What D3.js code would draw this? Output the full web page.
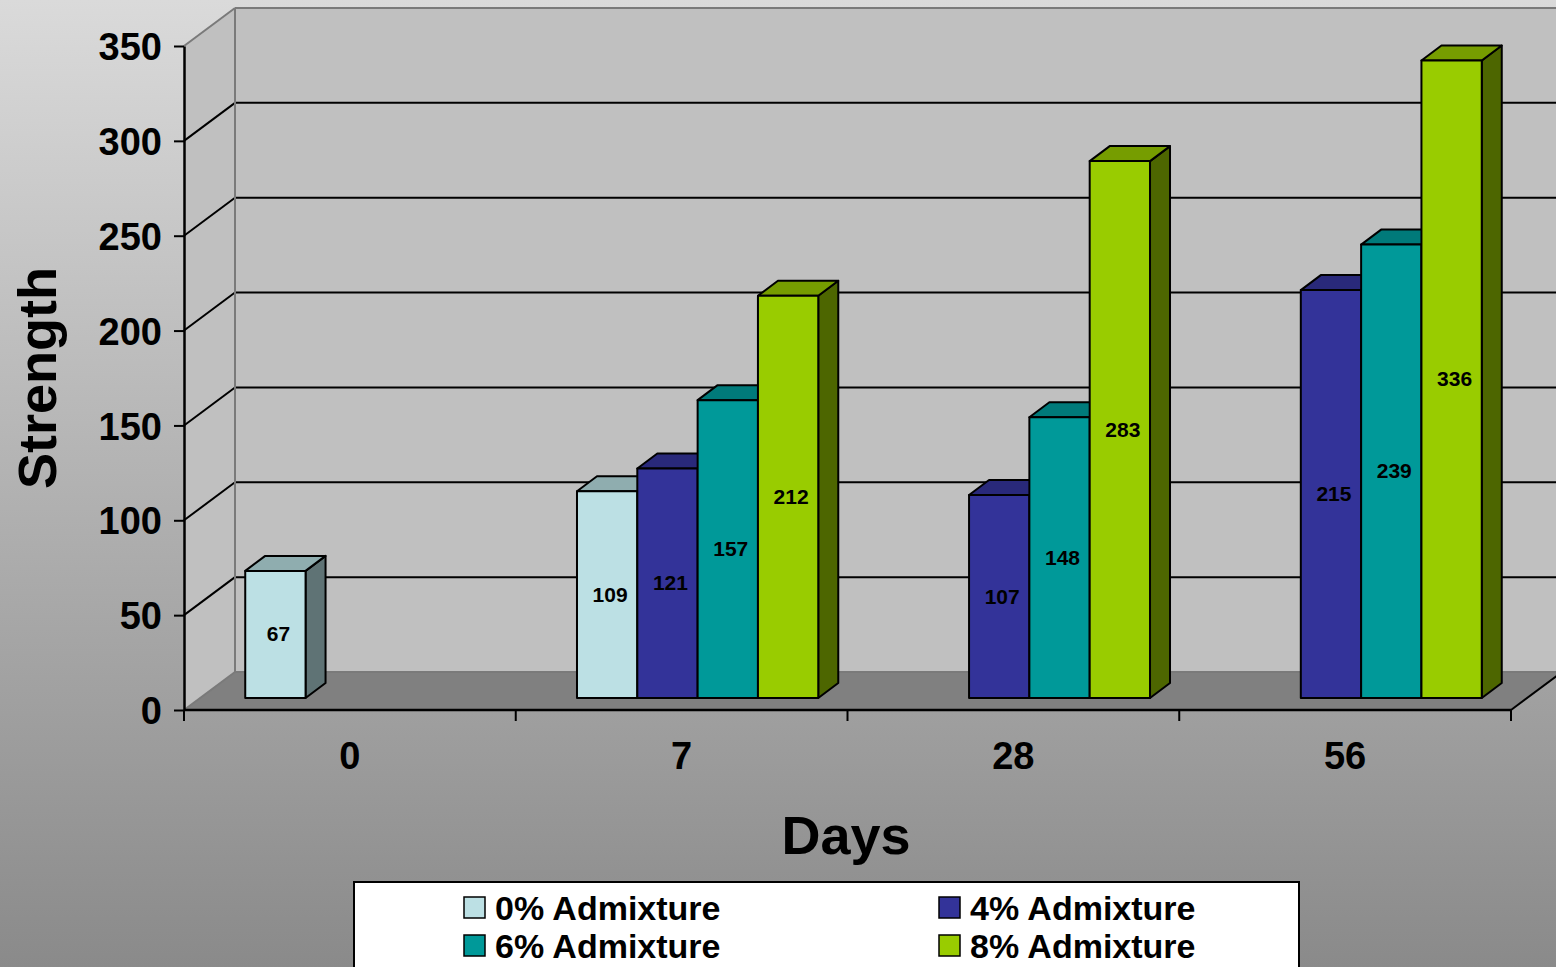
<!DOCTYPE html>
<html>
<head>
<meta charset="utf-8">
<script src="https://cdn.jsdelivr.net/npm/d3@7"></script>
<style>
  html, body { margin: 0; padding: 0; background: #fff; }
  svg { display: block; font-family: "Liberation Sans", Arial, sans-serif; font-weight: bold; }
</style>
</head>
<body>
<div class="container"></div>
<script>
var categories = ["0", "7", "28", "56"];
var series = ["0% Admixture", "4% Admixture", "6% Admixture", "8% Admixture"];
var values0 = [67, 109, null, null];
var values4 = [null, 121, 107, 215];
var values6 = [null, 157, 148, 239];
var values8 = [null, 212, 283, 336];
var yTicks = [0, 50, 100, 150, 200, 250, 300, 350];

var seriesValues = [values0, values4, values6, values8];
var front = ["#bce0e4", "#333399", "#009999", "#99cc00"];
var tops = ["#8fadaf", "#29297a", "#007a7a", "#769d00"];
var sides = ["#5f7375", "#1f1f5c", "#005c5c", "#4d6600"];

var W = 1556, H = 967;
var depthX = 51, depthY = -38;      // full floor depth
var barOffX = 16, barOffY = -12;    // where bar front sits
var barDX = 20, barDY = -15;        // bar depth

var svg = d3.select('.container').append('svg')
  .attr("width", W).attr("height", H);

var grad = svg.append("defs").append("linearGradient")
  .attr("id", "bg").attr("x1", 0).attr("y1", 0).attr("x2", 0).attr("y2", 1);
grad.append("stop").attr("offset", "0%").attr("stop-color", "#dadada");
grad.append("stop").attr("offset", "100%").attr("stop-color", "#8a8a8a");
svg.append("rect").attr("width", W).attr("height", H).attr("fill", "url(#bg)");

var x = d3.scaleBand().domain(categories).range([184, 1511]);
var y = d3.scaleLinear().domain([0, 350]).range([710, 46]);
var xs = d3.scaleBand().domain(series).range([0, x.bandwidth()]).paddingInner(0).paddingOuter(0.75);

var x0 = x.range()[0], x1 = x.range()[1];
var pts = function(a){ return a.map(function(p){return p.join(",");}).join(" "); };

// walls and floor
svg.append("polygon")
  .attr("points", pts([[x0, y(0)], [x0 + depthX, y(0) + depthY], [x0 + depthX, y(350) + depthY], [x0, y(350)]]))
  .attr("fill", "#c0c0c0");
svg.append("polygon")
  .attr("points", pts([[x0 + depthX, y(350) + depthY], [W + 5, y(350) + depthY], [W + 5, y(0) + depthY], [x0 + depthX, y(0) + depthY]]))
  .attr("fill", "#c0c0c0");
svg.append("polygon")
  .attr("points", pts([[x0, y(0)], [x1, y(0)], [x1 + depthX, y(0) + depthY], [x0 + depthX, y(0) + depthY]]))
  .attr("fill", "#808080");

// gridlines
var grid = svg.append("g");
yTicks.forEach(function(t){
  var edge = (t === 0 || t === 350);
  var col = edge ? "#7a7a7a" : "#000";
  grid.append("line")
    .attr("x1", x0).attr("y1", y(t)).attr("x2", x0 + depthX).attr("y2", y(t) + depthY)
    .attr("stroke", col).attr("stroke-width", 2);
  grid.append("line")
    .attr("x1", x0 + depthX).attr("y1", y(t) + depthY).attr("x2", W + 5).attr("y2", y(t) + depthY)
    .attr("stroke", col).attr("stroke-width", 2);
});
grid.append("line")
  .attr("x1", x0 + depthX).attr("y1", y(0) + depthY).attr("x2", x0 + depthX).attr("y2", y(350) + depthY)
  .attr("stroke", "#7a7a7a").attr("stroke-width", 2);

// bars
var bars = [];
categories.forEach(function(c, ci){
  series.forEach(function(s, si){
    var v = seriesValues[si][ci];
    if (v == null) return;
    bars.push({cat: c, ser: s, si: si, value: v});
  });
});

var barG = svg.append("g");
bars.forEach(function(d){
  var left = x(d.cat) + xs(d.ser) + barOffX;
  var right = left + xs.bandwidth();
  var top = y(d.value) + barOffY;
  var bottom = y(0) + barOffY;
  var g = barG.append("g").attr("stroke", "#000").attr("stroke-width", 2).attr("stroke-linejoin", "round");
  g.append("polygon")
    .attr("points", pts([[right, top], [right + barDX, top + barDY], [right + barDX, bottom + barDY], [right, bottom]]))
    .attr("fill", sides[d.si]);
  g.append("polygon")
    .attr("points", pts([[left, top], [left + barDX, top + barDY], [right + barDX, top + barDY], [right, top]]))
    .attr("fill", tops[d.si]);
  g.append("rect")
    .attr("x", left).attr("y", top).attr("width", right - left).attr("height", bottom - top)
    .attr("fill", front[d.si]);
});

barG.selectAll("text.lbl").data(bars).enter()
  .append("text")
  .attr("class", "lbl")
  .attr("x", function(d){ return x(d.cat) + xs(d.ser) + barOffX + xs.bandwidth() / 2 + 3; })
  .attr("y", function(d){ return (y(d.value) + y(0)) / 2 + barOffY + 7; })
  .attr("text-anchor", "middle")
  .attr("font-size", "21px")
  .attr("fill", "#000")
  .text(function(d){ return d.value; });

// front x axis line + right floor edge
svg.append("line").attr("x1", x0).attr("y1", y(0)).attr("x2", x1).attr("y2", y(0))
  .attr("stroke", "#000").attr("stroke-width", 2.5);
svg.append("line").attr("x1", x1).attr("y1", y(0)).attr("x2", x1 + depthX).attr("y2", y(0) + depthY)
  .attr("stroke", "#000").attr("stroke-width", 2);
var bounds = categories.map(function(c){ return x(c); }).concat([x1]);
svg.selectAll("line.xt").data(bounds).enter().append("line")
  .attr("x1", function(d){return d;}).attr("x2", function(d){return d;})
  .attr("y1", y(0)).attr("y2", y(0) + 11)
  .attr("stroke", "#000").attr("stroke-width", 2);

var xAxis = svg.append("g").attr("transform", "translate(0," + y(0) + ")")
  .call(d3.axisBottom(x).tickSize(0).tickPadding(32));
xAxis.select(".domain").remove();
xAxis.selectAll("text").attr("font-size", "38px").attr("font-family", "Liberation Sans, Arial, sans-serif")
  .attr("font-weight", "bold").attr("fill", "#000");

// y axis
var yAxis = svg.append("g").attr("transform", "translate(" + x0 + ",0)")
  .call(d3.axisLeft(y).tickValues(yTicks).tickSize(10).tickSizeOuter(0).tickPadding(12));
yAxis.select(".domain").attr("stroke", "#000").attr("stroke-width", 2.5);
yAxis.selectAll(".tick line").attr("stroke", "#000").attr("stroke-width", 2);
yAxis.selectAll("text").attr("font-size", "38px").attr("font-family", "Liberation Sans, Arial, sans-serif")
  .attr("font-weight", "bold").attr("fill", "#000").attr("dy", "0.36em");

// titles
svg.append("text").attr("transform", "translate(56,378) rotate(-90)")
  .attr("text-anchor", "middle").attr("font-size", "54px").attr("fill", "#000").text("Strength");
svg.append("text").attr("x", 846).attr("y", 854)
  .attr("text-anchor", "middle").attr("font-size", "54px").attr("fill", "#000").text("Days");

// legend
var leg = svg.append("g");
leg.append("rect").attr("x", 354).attr("y", 882).attr("width", 945).attr("height", 100)
  .attr("fill", "#fff").attr("stroke", "#000").attr("stroke-width", 2);
var legItems = leg.selectAll("g.item").data(series).enter().append("g")
  .attr("class", "item")
  .attr("transform", function(d, i){
    return "translate(" + (i % 2 === 0 ? 464 : 939) + "," + (i < 2 ? 908 : 946) + ")";
  });
legItems.append("rect").attr("x", 0).attr("y", -11).attr("width", 21).attr("height", 21)
  .attr("fill", function(d, i){ return front[i]; }).attr("stroke", "#000").attr("stroke-width", 1.5);
legItems.append("text").attr("x", 31).attr("y", 12).attr("font-size", "34px").attr("fill", "#000")
  .text(function(d){ return d; });
</script>
</body>
</html>
